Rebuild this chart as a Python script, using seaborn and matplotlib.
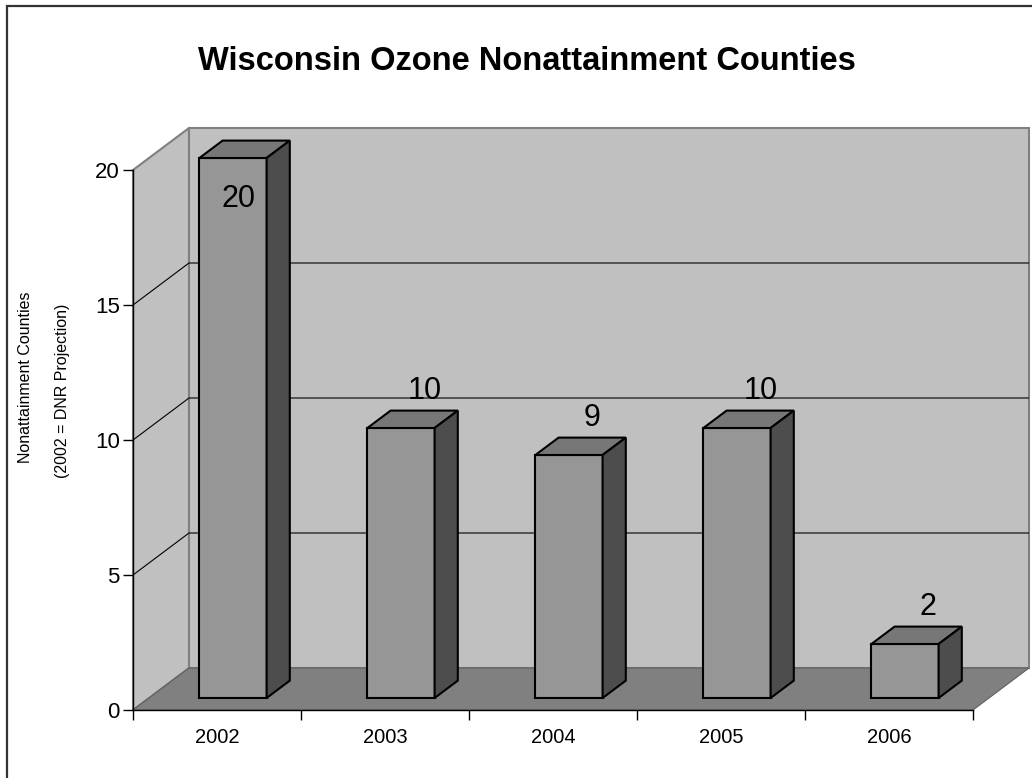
import numpy as np
import matplotlib
matplotlib.use("Agg")
import matplotlib.pyplot as plt
import seaborn as sns
from matplotlib.patches import Polygon, Rectangle

# ---- data ----
years = ["2002", "2003", "2004", "2005", "2006"]
counts = [20, 10, 9, 10, 2]
y_ticks = [0, 5, 10, 15, 20]
title = "Wisconsin Ozone Nonattainment Counties"
ylabel1 = "Nonattainment Counties"
ylabel2 = "(2002 = DNR Projection)"

sns.set_style("white")
plt.rcParams["font.family"] = ["Liberation Sans", "DejaVu Sans"]
plt.rcParams["text.color"] = "black"
plt.rcParams["xtick.color"] = "black"
plt.rcParams["ytick.color"] = "black"
plt.rcParams["axes.labelcolor"] = "black"

W, H = 1032, 778
fig = plt.figure(figsize=(W / 100, H / 100), dpi=100)
fig.patch.set_facecolor("white")
ax = fig.add_axes([133 / W, 68 / H, 896 / W, 582 / H])

# 3-D depth offsets in data units
DX, DY = 1 / 3, 14 / 9
F1, F2 = 0.2857, 0.70
YMAX = y_ticks[-1] + DY
n = len(years)

# bars (front faces) via seaborn
sns.barplot(x=years, y=counts, color="#969696", saturation=1, width=0.4,
            edgecolor="black", linewidth=1.5, ax=ax)
bars = list(ax.patches)

# walls and floor
x0w, x1w = -0.5, n - 0.5
ax.add_patch(Polygon([(x0w, 0), (x0w + DX, DY), (x0w + DX, y_ticks[-1] + DY), (x0w, y_ticks[-1])],
                     closed=True, fc="#C0C0C0", ec="#808080", lw=1.5, zorder=0.5, clip_on=False))
ax.add_patch(Polygon([(x0w + DX, DY), (x1w + DX, DY), (x1w + DX, y_ticks[-1] + DY), (x0w + DX, y_ticks[-1] + DY)],
                     closed=True, fc="#C0C0C0", ec="#808080", lw=1.5, zorder=0.5, clip_on=False))
ax.add_patch(Polygon([(x0w, 0), (x1w, 0), (x1w + DX, DY), (x0w + DX, DY)],
                     closed=True, fc="#808080", ec="#606060", lw=0.8, zorder=0.6, clip_on=False))

# gridlines on side and back walls
for v in y_ticks[1:-1]:
    ax.plot([x0w, x0w + DX, x1w + DX], [v, v + DY, v + DY], color="black", lw=0.8, zorder=1)

# 3-D bar faces
for rect, val in zip(bars, counts):
    x0 = rect.get_x()
    w = rect.get_width()
    h = rect.get_height()
    rect.set_x(x0 + F1 * DX)
    rect.set_y(F1 * DY)
    rect.set_zorder(3)
    top = [(x0 + F1 * DX, h + F1 * DY), (x0 + w + F1 * DX, h + F1 * DY),
           (x0 + w + F2 * DX, h + F2 * DY), (x0 + F2 * DX, h + F2 * DY)]
    side = [(x0 + w + F1 * DX, F1 * DY), (x0 + w + F2 * DX, F2 * DY),
            (x0 + w + F2 * DX, h + F2 * DY), (x0 + w + F1 * DX, h + F1 * DY)]
    ax.add_patch(Polygon(top, closed=True, fc="#777777", ec="black", lw=1.5, zorder=3, joinstyle="miter"))
    ax.add_patch(Polygon(side, closed=True, fc="#4D4D4D", ec="black", lw=1.5, zorder=3, joinstyle="miter"))
    cx = x0 + w / 2
    yb = h + F2 * DY + 0.44
    if yb + 0.8 > YMAX:
        ax.text(cx + F1 * DX + 0.03, h + F1 * DY - 1.8, f"{val:g}", ha="center", va="baseline",
                fontsize=22, zorder=5, color="black")
    else:
        ax.text(cx + F2 * DX, yb, f"{val:g}", ha="center", va="baseline", fontsize=22, zorder=5,
                color="black")

ax.set_xlim(x0w, x1w + DX)
ax.set_ylim(0, YMAX)
ax.patch.set_visible(False)
ax.set_xlabel("")
ax.set_ylabel("")
for s in ["top", "right"]:
    ax.spines[s].set_visible(False)
ax.spines["left"].set_bounds(0, y_ticks[-1])
ax.spines["bottom"].set_bounds(x0w, x1w)
for s in ["left", "bottom"]:
    ax.spines[s].set_color("black")
    ax.spines[s].set_linewidth(1.0)
    ax.spines[s].set_zorder(4)

ax.set_yticks(y_ticks)
ax.set_yticklabels([str(t) for t in y_ticks])
ax.set_xticks(np.arange(x0w, x1w + 0.01, 1.0))
ax.set_xticklabels([])
ax.set_xticks(np.arange(n), labels=years, minor=True)
ax.tick_params(axis="y", direction="out", length=7.5, width=1, color="black", pad=2,
               labelsize=16, left=True, labelcolor="black")
ax.tick_params(axis="x", which="major", direction="out", length=7.5, width=1, color="black", bottom=True)
ax.tick_params(axis="x", which="minor", length=0, pad=13, labelsize=14.5, labelcolor="black")

# title & y label
fig.text(527 / W, 1 - 70 / H, title, ha="center", va="baseline", fontsize=23.5,
         fontweight="bold", color="black")
fig.text(26 / W, 1 - 463 / H, ylabel1, rotation=90, ha="center", va="bottom", fontsize=11.5,
         color="black")
fig.text(62 / W, 1 - 391 / H, ylabel2, rotation=90, ha="center", va="center", fontsize=11.5,
         color="black")

# outer frame (extends past right/bottom edges)
fig.add_artist(Rectangle((7 / W, -0.2), 1.5, 1.2 - 6 / H, transform=fig.transFigure,
                         fill=False, ec="#333333", lw=1.6))

fig.savefig("out.png", dpi=100)
